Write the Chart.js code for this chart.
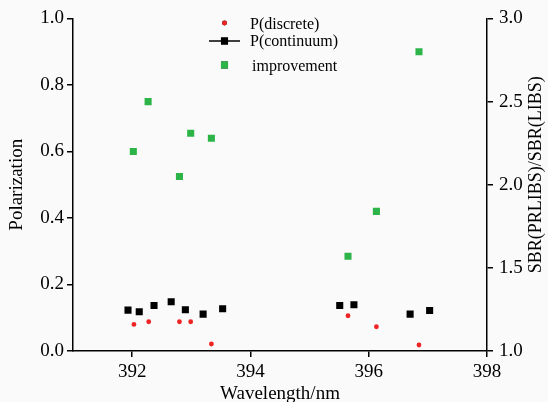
<!DOCTYPE html>
<html>
<head>
<meta charset="utf-8">
<script src="https://cdn.jsdelivr.net/npm/chart.js@4.4.0/dist/chart.umd.min.js"></script>
<style>
  html, body { margin: 0; padding: 0; background: #fafafa; }
  #wrap { width: 548px; height: 402px; }
</style>
</head>
<body>
<div id="wrap"><canvas id="chart" width="548" height="402"></canvas></div>
<script>
// ---------- data ----------
const discreteX = [392.03, 392.28, 392.80, 392.99, 393.34, 395.65, 396.13, 396.85];
const discreteP = [0.080, 0.088, 0.088, 0.088, 0.021, 0.106, 0.073, 0.018];

const continuumX = [391.93, 392.12, 392.37, 392.66, 392.90, 393.20, 393.53, 395.51, 395.75, 396.70, 397.03];
const continuumP = [0.123, 0.118, 0.137, 0.148, 0.124, 0.111, 0.127, 0.137, 0.139, 0.111, 0.122];

const improveX = [392.02, 392.27, 392.80, 392.99, 393.34, 395.65, 396.13, 396.85];
const improveSBR = [2.20, 2.50, 2.05, 2.31, 2.28, 1.57, 1.84, 2.80];

const xTicks = [392, 394, 396, 398];
const leftTicks = [0.0, 0.2, 0.4, 0.6, 0.8, 1.0];
const rightTicks = [1.0, 1.5, 2.0, 2.5, 3.0];

const rightTitle = 'SBR(PRLIBS)/SBR(LIBS)';

const serif = "'Liberation Serif', 'Times New Roman', serif";
const toPoints = (xs, ys) => xs.map((x, i) => ({ x: x, y: ys[i] }));
const setTicks = list => scale => { scale.ticks = list.map(v => ({ value: v })); };

// page background
const bgPlugin = {
  id: 'bg',
  beforeDraw(chart) {
    const ctx = chart.ctx;
    ctx.save();
    ctx.fillStyle = '#fafafa';
    ctx.fillRect(0, 0, chart.width, chart.height);
    ctx.restore();
  }
};

// right axis title reads bottom-to-top like the left one
const rightTitlePlugin = {
  id: 'rightTitle',
  afterDraw(chart) {
    const ctx = chart.ctx;
    const area = chart.chartArea;
    ctx.save();
    ctx.translate(536, (area.top + area.bottom) / 2 - 10);
    ctx.rotate(-Math.PI / 2);
    ctx.font = '18px ' + serif;
    ctx.fillStyle = '#000';
    ctx.textAlign = 'center';
    ctx.textBaseline = 'middle';
    ctx.fillText(rightTitle, 0, 0);
    ctx.restore();
  }
};

// legend drawn inside the plot, one row per dataset
const legendPlugin = {
  id: 'insideLegend',
  afterDraw(chart) {
    const ctx = chart.ctx;
    const rows = [
      { y: 23, ty: 25, tx: 250, line: false },
      { y: 41, ty: 42, tx: 250, line: true },
      { y: 65, ty: 67, tx: 252, line: false }
    ];
    ctx.save();
    ctx.font = '16px ' + serif;
    ctx.textBaseline = 'middle';
    ctx.fillStyle = '#000';
    chart.data.datasets.forEach((ds, i) => {
      const r = rows[i];
      if (r.line) {
        ctx.strokeStyle = '#000';
        ctx.lineWidth = 1.5;
        ctx.beginPath();
        ctx.moveTo(209, r.y);
        ctx.lineTo(240, r.y);
        ctx.stroke();
      }
      Chart.helpers.drawPoint(ctx, {
        pointStyle: ds.pointStyle,
        radius: ds.pointRadius,
        borderWidth: 0
      }, 224.5, r.y);
      ctx.fillStyle = ds.backgroundColor;
      ctx.fill();
      ctx.fillStyle = '#000';
      ctx.fillText(ds.label, r.tx, r.ty);
    });
    ctx.restore();
  }
};

new Chart(document.getElementById('chart'), {
  type: 'scatter',
  data: {
    datasets: [
      {
        label: 'P(discrete)',
        data: toPoints(discreteX, discreteP),
        yAxisID: 'y',
        pointStyle: 'circle',
        pointRadius: 2.4,
        backgroundColor: '#ee2424',
        borderWidth: 0
      },
      {
        label: 'P(continuum)',
        data: toPoints(continuumX, continuumP),
        yAxisID: 'y',
        pointStyle: 'rect',
        pointRadius: 5,
        backgroundColor: '#000000',
        borderWidth: 0
      },
      {
        label: 'improvement',
        data: toPoints(improveX, improveSBR),
        yAxisID: 'y2',
        pointStyle: 'rect',
        pointRadius: 5,
        backgroundColor: '#2db448',
        borderWidth: 0
      }
    ]
  },
  options: {
    responsive: false,
    animation: false,
    layout: { padding: { top: 18.5, left: 0, right: 0, bottom: 0 } },
    plugins: {
      legend: { display: false },
      tooltip: { enabled: false }
    },
    scales: {
      x: {
        type: 'linear',
        position: 'bottom',
        min: 391,
        max: 398,
        afterBuildTicks: setTicks(xTicks),
        afterFit: s => { s.height = 51; },
        border: { color: '#000', width: 1.5 },
        grid: { drawOnChartArea: false, drawTicks: true, tickLength: 6, color: '#000', lineWidth: 1.5 },
        ticks: { color: '#000', padding: 4, font: { family: serif, size: 19 }, callback: v => v.toString() },
        title: { display: true, text: 'Wavelength/nm', color: '#000', padding: { top: 0, bottom: -2 }, font: { family: serif, size: 19, lineHeight: 1 } }
      },
      y: {
        type: 'linear',
        position: 'left',
        min: 0,
        max: 1,
        afterBuildTicks: setTicks(leftTicks),
        afterFit: s => { s.width = 73; },
        border: { color: '#000', width: 1.5 },
        grid: { drawOnChartArea: false, drawTicks: true, tickLength: 6, color: '#000', lineWidth: 1.5 },
        ticks: { color: '#000', padding: 3, font: { family: serif, size: 19 }, callback: v => v.toFixed(1) },
        title: { display: true, text: 'Polarization', color: '#000', padding: 8, font: { family: serif, size: 19, lineHeight: 1 } }
      },
      y2: {
        type: 'linear',
        position: 'right',
        min: 1,
        max: 3,
        afterBuildTicks: setTicks(rightTicks),
        afterFit: s => { s.width = 61; },
        border: { color: '#000', width: 1.5 },
        grid: { drawOnChartArea: false, drawTicks: true, tickLength: 6, color: '#000', lineWidth: 1.5 },
        ticks: { color: '#000', padding: 6, font: { family: serif, size: 19 }, callback: v => v.toFixed(1) },
        title: { display: false }
      }
    }
  },
  plugins: [bgPlugin, rightTitlePlugin, legendPlugin]
});
</script>
</body>
</html>
